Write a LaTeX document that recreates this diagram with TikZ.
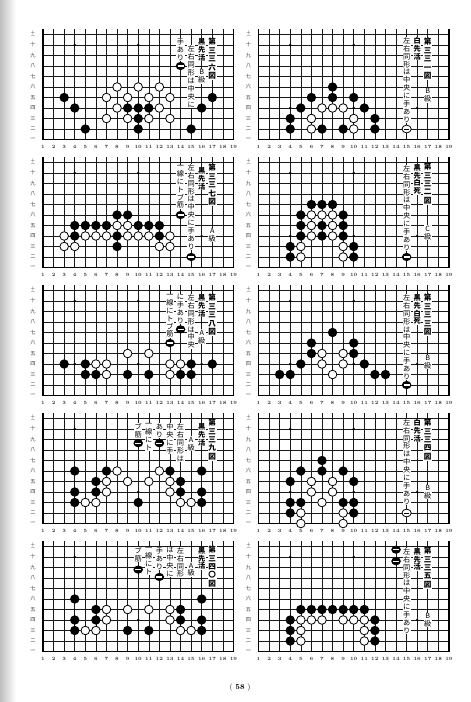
\documentclass[tikz,border=0pt]{standalone}
\usepackage{fontspec}
\newfontfamily\cjk{Noto Sans CJK JP}
\tikzset{
 gl/.style={line width=0.6pt, black!90},
 edgeline/.style={line width=1.3pt, black},
 vtext/.style={anchor=north, fill=white, inner sep=0.5pt, align=center, font=\cjk\fontsize{7.2}{7.9}\selectfont},
 title/.style={font=\cjk\bfseries\fontsize{7.6}{8.4}\selectfont},
 boldt/.style={font=\cjk\bfseries\fontsize{7.2}{7.9}\selectfont},
 rowlab/.style={font=\cjk\fontsize{5.2}{5}\selectfont, text=black!75, inner sep=0pt},
 collab/.style={font=\bfseries\fontsize{4.8}{5}\selectfont, text=black!80, inner sep=0pt},
}
\newcommand\goboard{%
 \foreach \cc in {1,...,19} \draw[gl] (\cc,1) -- (\cc,11.5);
 \foreach \rr in {2,...,11} \draw[gl] (1,\rr) -- (19,\rr);
 \draw[edgeline] (1,11.5) -- (1,1) -- (19,1) -- (19,11.5);
 \foreach \cc in {4,10,16} \foreach \rr in {4,10} \fill (\cc,\rr) circle[radius=1.3pt];
 \foreach \lab [count=\rr] in {一,二,三,四,五,六,七,八,九,十} \node[rowlab] at (0.05,\rr) {\lab};
 \node[rowlab, align=center, font=\cjk\fontsize{4.2}{3}\selectfont] at (0.05,11) {十\\一};
 \foreach \cc in {1,...,19} \node[collab] at (\cc,0.25) {\cc};
}
\newcommand\blk[1]{\foreach \cc/\rr in {#1} \fill[black] (\cc,\rr) circle[radius=4.7pt];}
\newcommand\wht[1]{\foreach \cc/\rr in {#1} \filldraw[fill=white,draw=black,line width=0.8pt] (\cc,\rr) circle[radius=4.3pt];}
\newcommand\bmark[2]{\fill[black] (#1,#2) ellipse[x radius=4.8pt,y radius=4.1pt];
 \draw[white,line width=1.2pt] ([xshift=-3pt]#1,#2) -- ([xshift=3pt]#1,#2);}
\newcommand\wmark[2]{\filldraw[fill=white,draw=black,line width=0.8pt] (#1,#2) ellipse[x radius=4.6pt,y radius=3.9pt];
 \draw[black,line width=0.8pt] ([xshift=-2.8pt]#1,#2) -- ([xshift=2.8pt]#1,#2);}
\newcommand\vt[5][]{\node[vtext,#1] (#2) at (#3,#4) {#5};}
\begin{document}
\begin{tikzpicture}[x=1pt,y=-1pt]
\useasboundingbox (0,0) rectangle (471,702);
\fill[white] (0,0) rectangle (471,702);
\shade[left color=black!25,right color=white] (0,0) rectangle (16,702);

% ---------- Board 1 (top left) ----------
\begin{scope}[shift={(32.42,150)},x=10.58pt,y=10.5pt]
\goboard
\blk{3/5,4/4,5/2,9/4,10/4,11/4,10/3,10/2,15/2,16/4,17/5}
\wht{8/6,10/6,12/6,7/5,9/5,11/5,13/5,8/4,12/4,7/3,9/3,11/3,13/3}
\vt[title]{t1a}{17}{10.7}{第\\三\\三\\六\\図}
\vt[boldt]{t1b}{16}{10.7}{黒\\先\\活}
\vt[anchor=center]{t1c}{16}{7.0}{B\\級}
\vt{t1d}{15}{10.0}{左\\右\\同\\形\\は\\中\\央\\に}
\vt{t1e}{14}{10.7}{手\\あ\\り}
\bmark{14}{8}
\end{scope}

% ---------- Board 2 (top right) ----------
\begin{scope}[shift={(247.92,150)},x=10.58pt,y=10.5pt]
\goboard
\blk{8/6,6/5,8/5,10/5,5/4,11/4,4/3,12/3,4/2,7/2,9/2,12/2}
\wht{7/4,8/4,9/4,6/3,10/3,6/2,10/2}
\vt[title]{t2a}{17}{10.7}{第\\三\\三\\一\\図}
\vt[anchor=center]{t2b}{17}{5.2}{B\\級}
\vt[boldt]{t2c}{16}{10.8}{白\\先\\活}
\vt{t2d}{15}{10.8}{左\\右\\同\\形\\は\\中\\央\\に\\手\\あ\\り}
\wmark{15}{2}
\end{scope}

% ---------- Board 3 ----------
\begin{scope}[shift={(32.42,278)},x=10.58pt,y=10.5pt]
\goboard
\blk{8/6,9/6,4/5,5/5,6/5,7/5,10/5,11/5,12/5,4/4,8/4,12/4,8/3}
\wht{8/5,9/5,3/4,5/4,6/4,7/4,9/4,10/4,11/4,13/4,3/3,4/3,12/3,13/3}
\vt[title]{t3a}{17}{10.9}{第\\三\\三\\七\\図}
\vt[anchor=center]{t3b}{17}{4.1}{A\\級}
\vt[boldt]{t3c}{16}{10.6}{黒\\先\\活}
\vt{t3d}{15}{10.9}{左\\右\\同\\形\\は\\中\\央\\に\\手\\あ\\り}
\vt{t3e}{14}{10.8}{一\\線\\に\\ト\\ブ\\筋}
\bmark{14}{6}
\bmark{15}{2}
\end{scope}

% ---------- Board 4 ----------
\begin{scope}[shift={(247.92,278)},x=10.58pt,y=10.5pt]
\goboard
\blk{6/7,7/7,8/7,5/6,9/6,5/5,7/5,9/5,5/4,7/4,9/4,4/3,10/3,4/2,10/2}
\wht{6/6,7/6,8/6,6/5,8/5,6/4,8/4,5/3,9/3,5/2,9/2}
\vt[title]{t4a}{17}{11.0}{第\\三\\三\\二\\図}
\vt[anchor=center]{t4b}{17}{4.3}{C\\級}
\vt[boldt]{t4c}{16}{10.9}{黒\\先\\白\\死}
\vt{t4d}{15}{10.8}{左\\右\\同\\形\\は\\中\\央\\に\\手\\あ\\り}
\bmark{15}{2}
\end{scope}

% ---------- Board 5 ----------
\begin{scope}[shift={(32.42,406)},x=10.58pt,y=10.5pt]
\goboard
\blk{3/4,5/4,15/4,17/4,5/3,6/3,9/3,11/3,14/3,15/3}
\wht{9/5,11/5,6/4,7/4,13/4,14/4,7/3,13/3}
\vt[title]{t5a}{17}{10.7}{第\\三\\三\\八\\図}
\vt[boldt]{t5b}{16}{10.7}{黒\\先\\活}
\vt[anchor=center]{t5c}{16}{6.6}{A\\級}
\vt{t5d}{15}{10.7}{左\\右\\同\\形\\は\\中\\央}
\vt{t5e}{14}{10.7}{に\\手\\あ\\り}
\vt{t5f}{13}{10.7}{一\\線\\に\\ト\\ブ\\筋}
\bmark{14}{7.3}
\bmark{13}{6.0}
\end{scope}

% ---------- Board 6 ----------
\begin{scope}[shift={(247.92,406)},x=10.58pt,y=10.5pt]
\goboard
\blk{8/7,6/6,10/6,6/5,10/5,5/4,11/4,3/3,4/3,12/3,13/3}
\wht{7/5,9/5,7/4,9/4,8/3}
\vt[title]{t6a}{17}{10.7}{第\\三\\三\\三\\図}
\vt[anchor=center]{t6b}{17}{4.2}{B\\級}
\vt[boldt]{t6c}{16}{10.7}{黒\\先\\白\\死}
\vt{t6d}{15}{10.7}{左\\右\\同\\形\\は\\中\\央\\に\\手\\あ\\り}
\bmark{15}{2}
\end{scope}

% ---------- Board 7 ----------
\begin{scope}[shift={(32.42,534)},x=10.58pt,y=10.5pt]
\goboard
\blk{4/6,7/6,13/6,16/6,6/5,14/5,4/4,6/4,14/4,16/4,4/3,10/3,16/3}
\wht{8/6,12/6,7/5,9/5,11/5,13/5,7/4,13/4,5/3,6/3,14/3,15/3}
\vt[title]{t7a}{17}{11.0}{第\\三\\三\\九\\図}
\vt[boldt]{t7b}{16}{10.6}{黒\\先\\活}
\vt[anchor=center]{t7c}{15}{8.6}{A\\級}
\vt{t7d}{14}{10.6}{左\\右\\同\\形\\は}
\vt{t7e}{13}{10.6}{中\\央\\に\\手}
\vt{t7f}{12}{10.6}{あ\\り}
\vt{t7g}{11}{10.6}{一\\線\\に\\ト}
\vt{t7h}{10}{10.6}{ブ\\筋}
\bmark{12}{8.65}
\bmark{10}{8.65}
\end{scope}

% ---------- Board 8 ----------
\begin{scope}[shift={(247.92,534)},x=10.58pt,y=10.5pt]
\goboard
\blk{7/7,5/6,7/6,9/6,4/5,10/5,4/3,5/3,9/3,10/3,4/2,10/2}
\wht{6/5,8/5,6/4,8/4,7/3,5/2,9/2,5/1,9/1}
\vt[title]{t8a}{17}{11.0}{第\\三\\三\\四\\図}
\vt[anchor=center]{t8b}{17}{4.0}{B\\級}
\vt[boldt]{t8c}{16}{11.0}{白\\先\\活}
\vt{t8d}{15}{11.0}{左\\右\\同\\形\\は\\中\\央\\に\\手\\あ\\り}
\wmark{15}{2}
\end{scope}

% ---------- Board 9 ----------
\begin{scope}[shift={(32.42,662)},x=10.58pt,y=10.5pt]
\goboard
\blk{4/6,16/6,6/5,14/5,4/4,6/4,14/4,16/4,4/3,9/3,11/3,16/3}
\wht{7/5,9/5,11/5,13/5,7/4,13/4,5/3,6/3,14/3,15/3}
\vt[title]{t9a}{17}{11.1}{第\\三\\四\\〇\\図}
\vt[boldt]{t9b}{16}{11.0}{黒\\先\\活}
\vt[anchor=center]{t9c}{15}{8.8}{A\\級}
\vt{t9d}{14}{11.0}{左\\右\\同\\形}
\vt{t9e}{13}{11.0}{は\\中\\央\\に}
\vt{t9f}{12}{11.0}{手\\あ\\り}
\vt{t9g}{11}{11.0}{一\\線\\に\\ト}
\vt{t9h}{10}{11.0}{ブ\\筋}
\bmark{12}{8.1}
\bmark{10}{8.8}
\end{scope}

% ---------- Board 10 ----------
\begin{scope}[shift={(247.92,662)},x=10.58pt,y=10.5pt]
\goboard
\blk{5/5,6/5,7/5,8/5,9/5,10/5,11/5,4/4,12/4,4/3,12/3,4/2,12/2}
\wht{5/4,6/4,7/4,9/4,10/4,11/4,5/3,11/3,5/2,11/2}
\vt[title]{t10a}{17}{11.0}{第\\三\\三\\五\\図}
\vt[anchor=center]{t10b}{17}{4.0}{B\\級}
\vt[boldt]{t10c}{16}{10.9}{黒\\先\\活}
\vt{t10d}{15}{10.9}{左\\右\\同\\形\\は\\中\\央\\に\\手\\あ\\り}
\bmark{14}{10.7}
\bmark{14}{9.6}
\end{scope}

\node[font=\fontsize{7.5}{8}\selectfont] (pg) at (240,688) {(\ \textbf{58}\ )};
\end{tikzpicture}
\end{document}
